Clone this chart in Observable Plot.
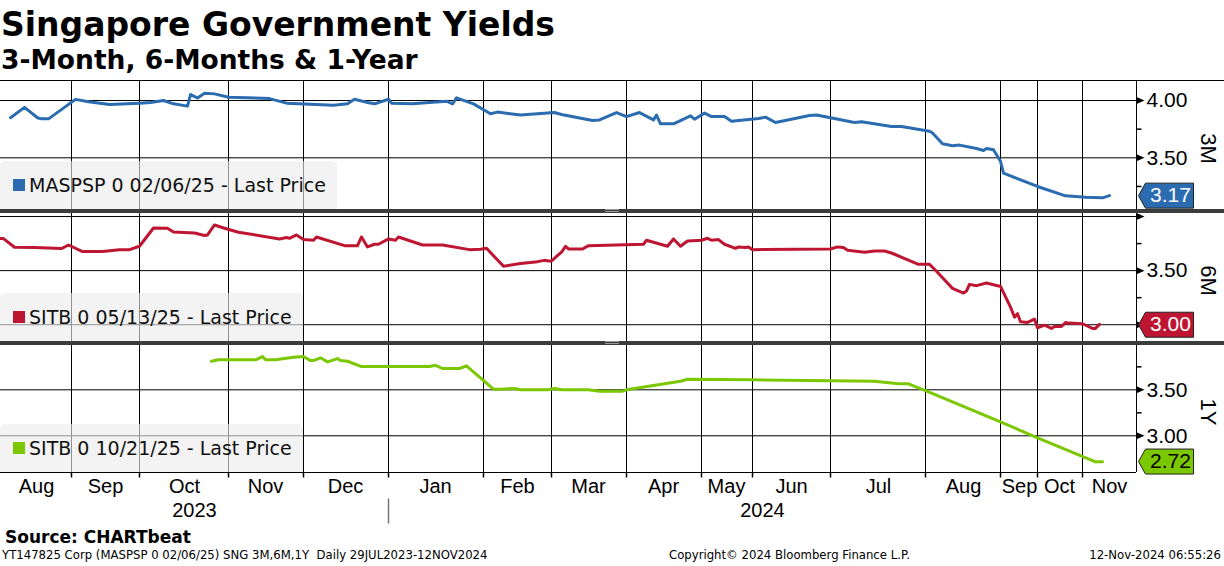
<!DOCTYPE html>
<html><head><meta charset="utf-8">
<script src="https://cdn.jsdelivr.net/npm/d3@7"></script>
<script src="https://cdn.jsdelivr.net/npm/@observablehq/plot@0.6"></script>
<style>
body{margin:0;background:#fff;}
#root{position:relative;width:1224px;height:566px;overflow:hidden;font-family:"DejaVu Sans",sans-serif;color:#000;}
.abs{position:absolute;left:0;white-space:pre;}
#title{top:8px;left:1px;font:bold 33px/33px "DejaVu Sans";}
#subtitle{top:47px;left:1px;font:bold 26.5px/26px "DejaVu Sans";}
#topline{top:80px;width:1224px;height:1px;background:#000;}
.sep{width:1224px;height:4px;background:#3c3c3c;}
.sep b{position:absolute;left:605px;top:0px;width:14px;height:1px;border-top:1px solid #9a9a9a;border-bottom:1px solid #9a9a9a;}
.legend{position:absolute;left:0;height:48px;display:flex;align-items:center;padding:0 11px 0 13px;background:rgba(235,235,235,0.62);border-radius:5px 5px 0 0;font:19px "DejaVu Sans";color:#111;box-sizing:border-box;white-space:pre;}
.legend i{display:inline-block;width:12px;height:12px;margin-right:4px;}
#source{top:529px;left:5px;font:bold 17px/17px "DejaVu Sans";}
.foot{top:549px;font:11.7px/12px "DejaVu Sans";}
</style></head><body>
<div id="root">
  <div class="abs" id="title">Singapore Government Yields</div>
  <div class="abs" id="subtitle">3-Month, 6-Months &amp; 1-Year</div>
  <div class="abs" id="topline"></div>
  <div class="abs" id="p1" style="top:81px"></div>
  <div class="abs sep" style="top:209px"><b></b></div>
  <div class="abs" id="p2" style="top:213px"></div>
  <div class="abs sep" style="top:341px"><b></b></div>
  <div class="abs" id="p3" style="top:345px"></div>
  <div class="legend" id="lg1" style="top:161px"></div>
  <div class="legend" id="lg2" style="top:293px"></div>
  <div class="legend" id="lg3" style="top:424px"></div>
  <div class="abs" id="source">Source: CHARTbeat</div>
  <div class="abs foot" style="left:2px">YT147825 Corp (MASPSP 0 02/06/25) SNG 3M,6M,1Y  Daily 29JUL2023-12NOV2024</div>
  <div class="abs foot" style="left:669px">Copyright© 2024 Bloomberg Finance L.P.</div>
  <div class="abs foot" style="left:auto;right:3px">12-Nov-2024 06:55:26</div>
</div>
<script>
// ---- axis data (x = observation index, Bloomberg-style non-calendar axis) ----
const monthLabels = ["Aug","Sep","Oct","Nov","Dec","Jan","Feb","Mar","Apr","May","Jun","Jul","Aug","Sep","Oct","Nov"];
const monthBoundaries = [21,41,67,89,114,142,162,184,206,221,244,272,294,305,318];
const obsEnd = 334;
const yearLabels = ["2023","2024"];
const yearBoundary = 114;

// ---- 3M : MASPSP 0 02/06/25 ----
const blueT = [3,7,11,12,14,22,26,32,41,44,48,51,55,56,58,60,63,67,79,84,98,102,104,108,110,114,115,121,131,133,134,139,144,146,153,163,165,174,176,181,184,188,192,193,194,198,203,204,207,209,213,215,223,225,228,238,240,244,251,253,262,265,273,274,277,280,282,287,289,290,292,294,295,305,313,319,324,326];
const blueV = [3.85,3.94,3.85,3.84,3.84,4.01,3.99,3.965,3.977,3.983,4.00,3.971,3.951,4.052,4.023,4.064,4.058,4.029,4.017,3.977,3.959,3.971,4.011,3.983,3.971,4.011,3.977,3.971,3.994,3.971,4.023,3.971,3.884,3.899,3.873,3.895,3.878,3.825,3.831,3.895,3.86,3.895,3.831,3.873,3.797,3.797,3.866,3.837,3.89,3.86,3.86,3.82,3.843,3.855,3.808,3.87,3.873,3.849,3.808,3.814,3.773,3.773,3.732,3.716,3.622,3.605,3.611,3.581,3.564,3.581,3.57,3.47,3.366,3.25,3.168,3.156,3.151,3.17];

// ---- 6M : SITB 0 05/13/25 ----
const redT = [0,1,4,10,18,20,24,30,35,38,41,45,49,51,57,60,61,63,66,70,82,84,85,87,89,92,93,101,105,106,108,110,111,114,116,117,124,130,138,141,143,148,153,158,160,161,162,165,166,167,171,173,189,190,196,198,200,202,206,208,209,211,213,216,217,219,220,221,244,246,248,249,254,257,260,262,270,273,275,280,283,284,285,287,290,293,294,297,298,299,300,302,304,305,307,309,310,312,313,314,318,321,322,323];
const redV = [3.796,3.796,3.716,3.713,3.704,3.737,3.676,3.676,3.694,3.694,3.725,3.894,3.892,3.857,3.848,3.824,3.83,3.922,3.892,3.855,3.793,3.806,3.799,3.83,3.787,3.781,3.811,3.731,3.731,3.811,3.719,3.744,3.744,3.793,3.781,3.811,3.737,3.737,3.694,3.697,3.706,3.54,3.565,3.583,3.595,3.589,3.589,3.672,3.725,3.70,3.70,3.731,3.744,3.781,3.725,3.793,3.725,3.774,3.781,3.799,3.781,3.787,3.744,3.706,3.719,3.713,3.719,3.694,3.70,3.719,3.713,3.688,3.669,3.681,3.681,3.663,3.558,3.558,3.503,3.336,3.293,3.311,3.373,3.361,3.385,3.361,3.355,3.163,3.07,3.102,3.028,3.021,3.052,2.972,2.996,2.966,2.984,2.984,3.021,3.015,3.009,2.966,2.966,3.003];

// ---- 1Y : SITB 0 10/21/25 ----
const greenT = [62,64,75,77,78,81,86,89,91,92,94,96,99,100,102,106,126,128,130,135,137,145,147,151,153,161,163,165,173,176,183,184,200,202,221,257,264,267,272,294,305,322,324];
const greenV = [3.811,3.826,3.826,3.862,3.826,3.826,3.854,3.862,3.818,3.818,3.848,3.804,3.84,3.818,3.811,3.753,3.753,3.767,3.732,3.732,3.761,3.507,3.507,3.514,3.50,3.50,3.514,3.50,3.50,3.485,3.485,3.50,3.594,3.615,3.609,3.594,3.565,3.565,3.492,3.152,2.978,2.717,2.717];

const lastValues = [3.17, 3.00, 2.72];
const panelNames = ["3M","6M","1Y"];
const legendNames = ["MASPSP 0 02/06/25 - Last Price","SITB 0 05/13/25 - Last Price","SITB 0 10/21/25 - Last Price"];
const colors = ["#2b6cb0","#be1632","#7cc800"];
const boxText = ["#fff","#fff","#000"];
const yDomains = [[3.049,4.166],[2.845,4.028],[2.601,3.982]];
const gridTicks = [[4.0,3.5],[4.0,3.5,3.0],[3.5,3.0]];
const labelTicks = [[4.0,3.5],[3.5],[3.5,3.0]];
const minorTicks = [[3.75,3.25],[3.75,3.25],[3.75,3.25]];

// ---- symbols ----
const arrowSym = {draw(c){c.moveTo(0,-3.5);c.lineTo(8,0);c.lineTo(0,3.5);c.closePath();}};
const minorSym = {draw(c){c.moveTo(0,0);c.lineTo(5,0);}};
const boxSym = {draw(c){c.moveTo(2,0);c.lineTo(9,-12.5);c.lineTo(57,-12.5);c.lineTo(57,12.5);c.lineTo(9,12.5);c.closePath();}};
const tickDownSym = {draw(c){c.moveTo(0,0);c.lineTo(0,5);}};
const yearSepSym = {draw(c){c.moveTo(0,26);c.lineTo(0,51);}};

const seriesList = [[blueT,blueV],[redT,redV],[greenT,greenV]].map(([T,V]) => T.map((t,i)=>({t, v:V[i]})));

const bounds = [0, ...monthBoundaries, obsEnd];
const monthMids = monthLabels.map((label,i)=>({t:(bounds[i]+bounds[i+1])/2, label}));
const yearMids = [{t:yearBoundary/2, label:yearLabels[0]},{t:(yearBoundary+obsEnd)/2, label:yearLabels[1]}];

function panel(k){
  const frameH = k===2 ? 127 : 128;
  const mb = k===2 ? 55 : 0;
  const marks = [
    Plot.ruleX(monthBoundaries, {stroke:"#000", strokeWidth:1}),
    Plot.ruleY(gridTicks[k], {stroke:"#000", strokeWidth:1}),
    Plot.ruleX([obsEnd], {stroke:"#000", strokeWidth:1}),
    Plot.line(seriesList[k], {x:"t", y:"v", stroke:colors[k], strokeWidth:3, strokeLinejoin:"round", strokeLinecap:"round"}),
    Plot.dot(gridTicks[k], {y:d=>d, frameAnchor:"right", symbol:arrowSym, fill:"#000", stroke:"none"}),
    Plot.dot(minorTicks[k], {y:d=>d, frameAnchor:"right", symbol:minorSym, stroke:"#000", fill:"none"}),
    Plot.text(labelTicks[k], {y:d=>d, frameAnchor:"right", dx:10, textAnchor:"start", text:d=>d.toFixed(2), fontSize:21, fill:"#000"}),
    Plot.dot([lastValues[k]], {y:d=>d, frameAnchor:"right", symbol:boxSym, fill:colors[k], stroke:"#222", strokeWidth:1}),
    Plot.text([lastValues[k]], {y:d=>d, frameAnchor:"right", dx:34, textAnchor:"middle", text:d=>d.toFixed(2), fill:boxText[k], fontSize:21}),
    Plot.text([panelNames[k]], {frameAnchor:"right", dx:72, dy:3, textAnchor:"middle", rotate:90, text:d=>d, fontSize:22, fill:"#000"})
  ];
  if (k===2) {
    marks.push(
      Plot.ruleY([yDomains[k][0]], {stroke:"#000", strokeWidth:1}),
      Plot.dot(monthBoundaries, {x:d=>d, frameAnchor:"bottom", symbol:tickDownSym, stroke:"#000", fill:"none"}),
      Plot.text(monthMids, {x:"t", text:"label", frameAnchor:"bottom", dy:20, textAnchor:"middle", fontSize:20, fill:"#000"}),
      Plot.text(yearMids, {x:"t", text:"label", frameAnchor:"bottom", dy:44, textAnchor:"middle", fontSize:20, fill:"#000"}),
      Plot.dot([yearBoundary], {x:d=>d, frameAnchor:"bottom", symbol:yearSepSym, stroke:"#777", fill:"none"})
    );
  }
  return Plot.plot({
    width:1224, height:frameH+mb,
    marginLeft:0, marginRight:88, marginTop:0, marginBottom:mb,
    x:{domain:[0,obsEnd], axis:null, round:true},
    y:{domain:yDomains[k], axis:null},
    style:{fontFamily:"'Liberation Sans', Arial, sans-serif", background:"transparent", overflow:"visible"},
    marks
  });
}

["p1","p2","p3"].forEach((id,k)=>{
  document.getElementById(id).appendChild(panel(k));
  const lg = document.getElementById("lg"+(k+1));
  const sq = document.createElement("i");
  sq.style.background = colors[k];
  lg.appendChild(sq);
  lg.appendChild(document.createTextNode(legendNames[k]));
});
</script>
</body></html>
